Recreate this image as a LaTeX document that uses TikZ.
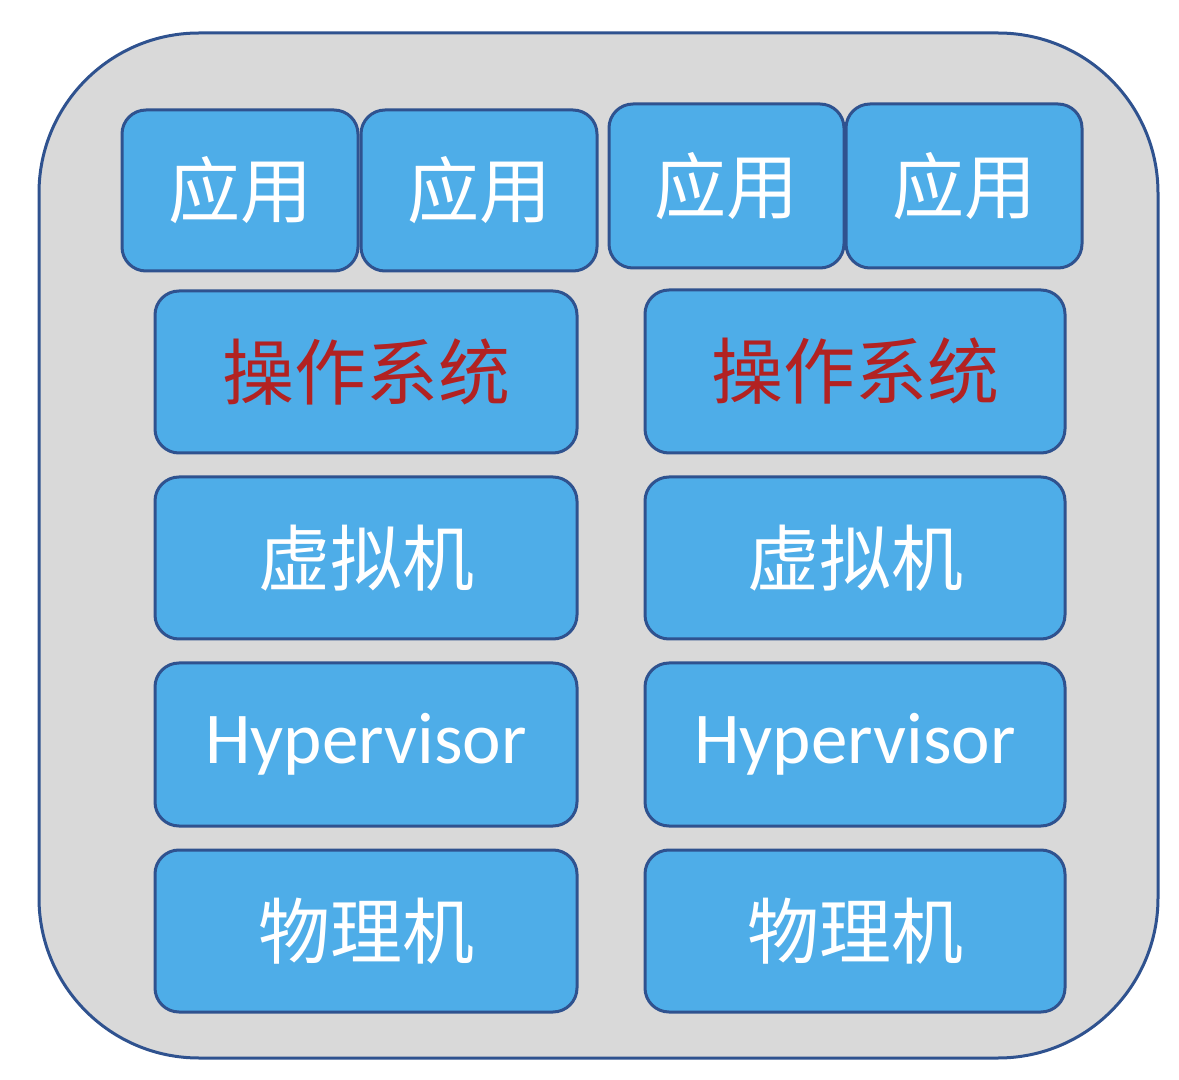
\documentclass[tikz,border=0pt]{standalone}
\usepackage{fontspec}
\setmainfont{Carlito}
\newfontfamily\cjk{Noto Sans CJK SC}
\definecolor{boxblue}{RGB}{78,173,232}
\definecolor{edgeblue}{RGB}{47,82,143}
\definecolor{bggray}{RGB}{217,217,217}
\definecolor{osred}{RGB}{178,34,34}
\begin{document}
\begin{tikzpicture}[x=0.5pt,y=-0.5pt,
  blk/.style={draw=edgeblue,line width=1.5pt,fill=boxblue,rounded corners=12pt,inner sep=0pt,text=white,font=\cjk\fontsize{36}{40}\selectfont},
  latin/.style={font=\fontsize{36.5}{40}\selectfont}]
\useasboundingbox (0,0) rectangle (1179,1080);
\fill[white] (0,0) rectangle (1179,1080);
\draw[draw=edgeblue,line width=1.5pt,fill=bggray,rounded corners=80pt] (39,33) rectangle (1158,1058);
% apps
\node[blk,minimum width=118pt,minimum height=80.5pt] (a1) at (240,190.5) {应用};
\node[blk,minimum width=118pt,minimum height=80.5pt] (a2) at (479,190.5) {应用};
\node[blk,minimum width=117.5pt,minimum height=82pt] (a3) at (726.5,186) {应用};
\node[blk,minimum width=118pt,minimum height=82pt] (a4) at (964,186) {应用};
% left column
\node[blk,minimum width=211pt,minimum height=81pt,text=osred] (os1) at (366,372) {操作系统};
\node[blk,minimum width=211pt,minimum height=81pt] (vm1) at (366,558) {虚拟机};
\node[blk,minimum width=211pt,minimum height=81.5pt,latin] (hv1) at (366,744.5) {Hypervisor};
\node[blk,minimum width=211pt,minimum height=81pt] (pm1) at (366,931) {物理机};
% right column
\node[blk,minimum width=210pt,minimum height=81.5pt,text=osred] (os2) at (855,371.5) {操作系统};
\node[blk,minimum width=210pt,minimum height=81pt] (vm2) at (855,558) {虚拟机};
\node[blk,minimum width=210pt,minimum height=81.5pt,latin] (hv2) at (855,744.5) {Hypervisor};
\node[blk,minimum width=210pt,minimum height=81pt] (pm2) at (855,931) {物理机};
\end{tikzpicture}
\end{document}
